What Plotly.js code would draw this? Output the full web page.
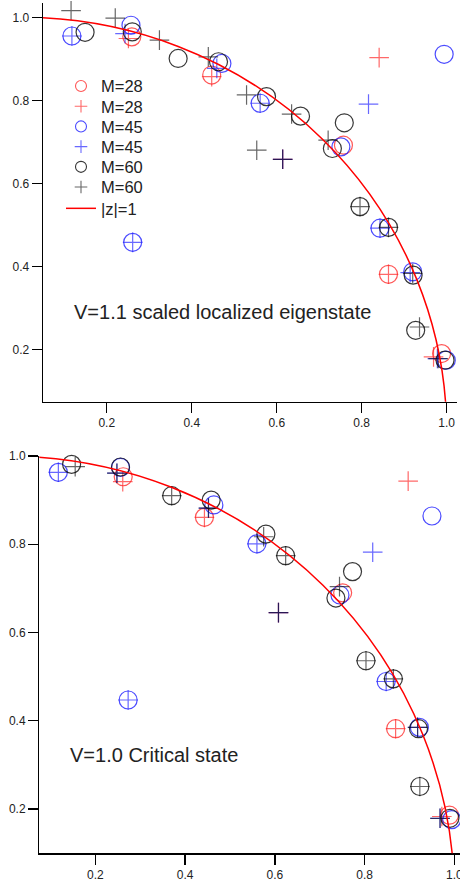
<!DOCTYPE html>
<html>
<head>
<meta charset="utf-8">
<script src="https://cdn.plot.ly/plotly-3.0.1.min.js"></script>
<style>
  html, body { margin: 0; padding: 0; background: #fff; }
  #chart { width: 460px; height: 888px; }
</style>
</head>
<body>
<div id="chart"></div>
<script>
// ---------- data: V=1.1 scaled localized eigenstate (top panel) ----------
const top28CircleX = [0.259, 0.447, 0.757, 0.863, 0.988];
const top28CircleY = [0.953, 0.861, 0.692, 0.381, 0.190];
const top28PlusX   = [0.251, 0.447, 0.841, 0.863, 0.969, 0.614];
const top28PlusY   = [0.949, 0.857, 0.903, 0.381, 0.182, 0.658];

const top45CircleX = [0.118, 0.257, 0.471, 0.561, 0.751, 0.843, 0.920, 0.999, 0.994, 0.261];
const top45CircleY = [0.955, 0.981, 0.889, 0.793, 0.688, 0.492, 0.387, 0.174, 0.911, 0.458];
const top45PlusX   = [0.118, 0.243, 0.459, 0.561, 0.816, 0.843, 0.914, 0.978, 0.261, 0.614];
const top45PlusY   = [0.955, 0.961, 0.877, 0.793, 0.791, 0.492, 0.385, 0.178, 0.458, 0.658];

const top60CircleX = [0.149, 0.260, 0.368, 0.463, 0.576, 0.656, 0.759, 0.731, 0.796, 0.863, 0.921, 0.927, 0.996];
const top60CircleY = [0.964, 0.965, 0.901, 0.893, 0.809, 0.762, 0.746, 0.684, 0.544, 0.494, 0.379, 0.246, 0.174];
const top60PlusX   = [0.116, 0.220, 0.324, 0.439, 0.529, 0.635, 0.721, 0.553, 0.614, 0.796, 0.863, 0.920, 0.936, 0.980];
const top60PlusY   = [1.016, 0.998, 0.945, 0.905, 0.813, 0.767, 0.704, 0.680, 0.658, 0.544, 0.494, 0.383, 0.254, 0.178];

// ---------- data: V=1.0 Critical state (bottom panel) ----------
const bot28CircleX = [0.262, 0.443, 0.751, 0.869, 0.989];
const bot28CircleY = [0.953, 0.861, 0.690, 0.382, 0.186];
const bot28PlusX   = [0.261, 0.443, 0.897, 0.869, 0.972, 0.608];
const bot28PlusY   = [0.942, 0.861, 0.943, 0.382, 0.183, 0.645];

const bot45CircleX = [0.1175, 0.256, 0.464, 0.560, 0.745, 0.848, 0.922, 0.994, 0.950, 0.273];
const bot45CircleY = [0.963, 0.974, 0.889, 0.801, 0.685, 0.489, 0.385, 0.176, 0.864, 0.447];
const bot45PlusX   = [0.1175, 0.248, 0.452, 0.560, 0.818, 0.848, 0.918, 0.968, 0.273, 0.608];
const bot45PlusY   = [0.963, 0.961, 0.882, 0.801, 0.782, 0.489, 0.385, 0.179, 0.447, 0.645];

const bot60CircleX = [0.147, 0.256, 0.370, 0.458, 0.580, 0.624, 0.773, 0.736, 0.803, 0.864, 0.920, 0.923, 0.990];
const bot60CircleY = [0.981, 0.975, 0.910, 0.900, 0.823, 0.774, 0.738, 0.678, 0.536, 0.495, 0.382, 0.251, 0.179];
const bot60PlusX   = [0.155, 0.248, 0.370, 0.452, 0.575, 0.624, 0.744, 0.608, 0.803, 0.864, 0.918, 0.923, 0.968];
const bot60PlusY   = [0.976, 0.961, 0.910, 0.882, 0.817, 0.774, 0.704, 0.645, 0.536, 0.495, 0.385, 0.251, 0.179];

// ---------- labels ----------
const seriesNames = ['M=28', 'M=28', 'M=45', 'M=45', 'M=60', 'M=60'];
const curveName = '|z|=1';
const unitRadius = 1;
const tickValues = [0.2, 0.4, 0.6, 0.8, 1.0];
const topLabel = 'V=1.1 scaled localized eigenstate';
const bottomLabel = 'V=1.0 Critical state';

// ---------- styles ----------
const FONT = '"Liberation Sans", Arial, sans-serif';
const colCircle = ['rgba(255,30,30,0.75)', 'rgba(30,30,255,0.8)', 'rgba(20,20,20,0.85)'];
const colPlus   = ['rgba(255,40,40,0.7)', 'rgba(40,40,255,0.7)', 'rgba(0,0,0,0.6)'];
const CIRCLE_SIZE = 18, PLUS_SIZE = 14, MLW = 1.2;

function circ(x, y, c, xa, ya) {
  return { x: x, y: y, type: 'scatter', mode: 'markers', xaxis: xa, yaxis: ya,
    showlegend: false, cliponaxis: false, hoverinfo: 'skip',
    marker: { symbol: 'circle-open', size: CIRCLE_SIZE, color: c, line: { width: MLW, color: c } } };
}
function plus(x, y, c, xa, ya) {
  return { x: x, y: y, type: 'scatter', mode: 'markers', xaxis: xa, yaxis: ya,
    showlegend: false, cliponaxis: false, hoverinfo: 'skip',
    marker: { symbol: 'cross-thin-open', size: PLUS_SIZE, color: c, line: { width: MLW, color: c } } };
}

const traces = [
  circ(top28CircleX, top28CircleY, colCircle[0], 'x', 'y'),
  plus(top28PlusX, top28PlusY, colPlus[0], 'x', 'y'),
  circ(top45CircleX, top45CircleY, colCircle[1], 'x', 'y'),
  plus(top45PlusX, top45PlusY, colPlus[1], 'x', 'y'),
  circ(top60CircleX, top60CircleY, colCircle[2], 'x', 'y'),
  plus(top60PlusX, top60PlusY, colPlus[2], 'x', 'y'),
  circ(bot28CircleX, bot28CircleY, colCircle[0], 'x2', 'y2'),
  plus(bot28PlusX, bot28PlusY, colPlus[0], 'x2', 'y2'),
  circ(bot45CircleX, bot45CircleY, colCircle[1], 'x2', 'y2'),
  plus(bot45PlusX, bot45PlusY, colPlus[1], 'x2', 'y2'),
  circ(bot60CircleX, bot60CircleY, colCircle[2], 'x2', 'y2'),
  plus(bot60PlusX, bot60PlusY, colPlus[2], 'x2', 'y2')
];

// legend rows: one legend per row so the row spacing matches the reference
const legendRowCenters = [81.7, 101.9, 122.1, 142.3, 162.5, 182.7, 204];
const legendIds = ['legend', 'legend2', 'legend3', 'legend4', 'legend5', 'legend6', 'legend7'];

for (let i = 0; i < 6; i++) {
  const isCircle = i % 2 === 0;
  const c = isCircle ? colCircle[i >> 1] : colPlus[i >> 1];
  traces.push({ x: [null], y: [null], type: 'scatter', mode: 'markers', name: seriesNames[i],
    xaxis: 'x', yaxis: 'y', showlegend: true, legend: legendIds[i], hoverinfo: 'skip',
    marker: isCircle
      ? { symbol: 'circle-open', size: 11, color: c, line: { width: 1.1, color: c } }
      : { symbol: 'cross-thin-open', size: 9, color: c, line: { width: 1.1, color: c } } });
}
traces.push({ x: [null], y: [null], type: 'scatter', mode: 'lines', name: curveName,
  xaxis: 'x', yaxis: 'y', showlegend: true, legend: legendIds[6],
  line: { color: '#ff0000', width: 1.5 } });

function axisStyle(extra) {
  return Object.assign({
    showline: true, linecolor: '#000', linewidth: 1.3, mirror: false,
    ticks: 'outside', ticklen: 10, tickwidth: 1.3, tickcolor: '#000',
    showgrid: false, zeroline: false, tickvals: tickValues, tickformat: '.1f',
    ticklabeloverflow: 'allow',
    tickfont: { family: FONT, size: 12, color: '#222' }, fixedrange: true
  }, extra);
}

const circleShape = (xr, yr) => ({
  type: 'circle', xref: xr, yref: yr, layer: 'above',
  x0: -unitRadius, y0: -unitRadius, x1: unitRadius, y1: unitRadius,
  line: { color: '#ff0000', width: 1.5 }
});

const layout = {
  width: 460, height: 888,
  margin: { l: 0, r: 0, t: 0, b: 0 },
  paper_bgcolor: '#fff', plot_bgcolor: '#fff',
  font: { family: FONT, color: '#222' },
  showlegend: true,
  xaxis:  axisStyle({ domain: [0.0935, 0.9928], range: [0.05, 1.0235], anchor: 'y' }),
  yaxis:  axisStyle({ domain: [0.5476, 0.9966], range: [0.074, 1.0345], anchor: 'x' }),
  xaxis2: axisStyle({ domain: [0.0854, 1.0], range: [0.075, 1.0125], anchor: 'y2' }),
  yaxis2: axisStyle({ domain: [0.0391, 0.4865], range: [0.0997, 1.0], anchor: 'x2' }),
  shapes: [circleShape('x', 'y'), circleShape('x2', 'y2')],
  annotations: [
    { text: topLabel, xref: 'paper', yref: 'paper', x: 72 / 460, y: 0.649,
      xanchor: 'left', yanchor: 'middle', showarrow: false,
      font: { family: FONT, size: 20, color: '#222' } },
    { text: bottomLabel, xref: 'paper', yref: 'paper', x: 68 / 460, y: 0.1498,
      xanchor: 'left', yanchor: 'middle', showarrow: false,
      font: { family: FONT, size: 20, color: '#222' } }
  ]
};

legendIds.forEach((id, i) => {
  layout[id] = {
    x: 61 / 460, xanchor: 'left',
    y: (888 - (legendRowCenters[i] - 12.9)) / 888, yanchor: 'top',
    bgcolor: 'rgba(0,0,0,0)', borderwidth: 0,
    font: { family: FONT, size: 16.5, color: '#222' },
    itemsizing: 'trace', itemwidth: 30
  };
});

Plotly.newPlot('chart', traces, layout, { staticPlot: true, displayModeBar: false });
</script>
</body>
</html>
